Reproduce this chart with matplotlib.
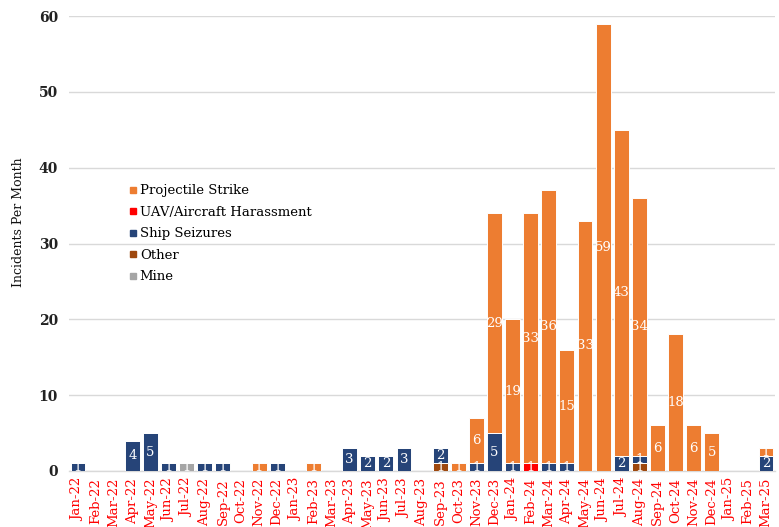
import numpy as np
import matplotlib
matplotlib.use("Agg")
import matplotlib.pyplot as plt
from matplotlib.lines import Line2D

months = ["Jan-22", "Feb-22", "Mar-22", "Apr-22", "May-22", "Jun-22", "Jul-22", "Aug-22",
          "Sep-22", "Oct-22", "Nov-22", "Dec-22", "Jan-23", "Feb-23", "Mar-23", "Apr-23",
          "May-23", "Jun-23", "Jul-23", "Aug-23", "Sep-23", "Oct-23", "Nov-23", "Dec-23",
          "Jan-24", "Feb-24", "Mar-24", "Apr-24", "May-24", "Jun-24", "Jul-24", "Aug-24",
          "Sep-24", "Oct-24", "Nov-24", "Dec-24", "Jan-25", "Feb-25", "Mar-25"]

mine = [0, 0, 0, 0, 0, 0, 1, 0, 0, 0, 0, 0, 0, 0, 0, 0, 0, 0, 0, 0,
        0, 0, 0, 0, 0, 0, 0, 0, 0, 0, 0, 0, 0, 0, 0, 0, 0, 0, 0]
other = [0, 0, 0, 0, 0, 0, 0, 0, 0, 0, 0, 0, 0, 0, 0, 0, 0, 0, 0, 0,
         1, 0, 0, 0, 0, 0, 0, 0, 0, 0, 0, 1, 0, 0, 0, 0, 0, 0, 0]
ship_seizures = [1, 0, 0, 4, 5, 1, 0, 1, 1, 0, 0, 1, 0, 0, 0, 3, 2, 2, 3, 0,
                 2, 0, 1, 5, 1, 0, 1, 1, 0, 0, 2, 1, 0, 0, 0, 0, 0, 0, 2]
uav_harassment = [0, 0, 0, 0, 0, 0, 0, 0, 0, 0, 0, 0, 0, 0, 0, 0, 0, 0, 0, 0,
                  0, 0, 0, 0, 0, 1, 0, 0, 0, 0, 0, 0, 0, 0, 0, 0, 0, 0, 0]
projectile_strike = [0, 0, 0, 0, 0, 0, 0, 0, 0, 0, 1, 0, 0, 1, 0, 0, 0, 0, 0, 0,
                     0, 1, 6, 29, 19, 33, 36, 15, 33, 59, 43, 34, 6, 18, 6, 5, 0, 0, 1]

# stacking order: bottom to top
series = [
    ("Mine", mine, "#A5A5A5"),
    ("Other", other, "#9E480E"),
    ("Ship Seizures", ship_seizures, "#264478"),
    ("UAV/Aircraft Harassment", uav_harassment, "#FF0000"),
    ("Projectile Strike", projectile_strike, "#ED7D31"),
]

plt.rcParams["font.family"] = ["DejaVu Serif"]

fig = plt.figure(figsize=(7.79, 5.27), dpi=100)
ax = fig.add_axes([0.0886, 0.1063, 0.9064, 0.8633])

x = np.arange(len(months))
bottom = np.zeros(len(months))
colors = {}
for name, vals, color in series:
    vals = np.array(vals, dtype=float)
    ax.bar(x, vals, bottom=bottom, width=0.82, color=color,
           edgecolor="white", linewidth=0.7, zorder=3)
    for xi, v, b in zip(x, vals, bottom):
        if v > 0:
            ax.text(xi, b + v / 2, f"{int(v)}", ha="center", va="center",
                    color="white", fontsize=9.5, zorder=4)
    bottom += vals
    colors[name] = color

ax.set_xlim(-0.5, len(months) - 0.5)
ax.set_ylim(0, 60)
ax.set_yticks(np.arange(0, 61, 10))
ax.grid(axis="y", color="#D9D9D9", linewidth=1, zorder=0)
ax.set_axisbelow(True)
for s in ["top", "right", "left"]:
    ax.spines[s].set_visible(False)
ax.spines["bottom"].set_color("#D9D9D9")
ax.spines["bottom"].set_linewidth(1)
ax.tick_params(axis="y", length=0, labelsize=10, pad=8)
ax.tick_params(axis="x", length=0, pad=5)
for lbl in ax.get_yticklabels():
    lbl.set_fontweight("bold")
    lbl.set_color("#222222")
ax.set_xticks(x)
ax.set_xticklabels(months, rotation=90, color="#FF0000", fontsize=9.5)
ax.set_ylabel("Incidents Per Month", fontsize=9, color="#111111")
ax.yaxis.set_label_coords(-0.062, 0.547)

legend_order = ["Projectile Strike", "UAV/Aircraft Harassment", "Ship Seizures", "Other", "Mine"]
legend_handles = [Line2D([0], [0], marker="s", linestyle="none", markersize=5,
                         markerfacecolor=colors[n], markeredgecolor=colors[n])
                  for n in legend_order]
ax.legend(legend_handles, legend_order, loc="upper left", bbox_to_anchor=(0.075, 0.642),
          frameon=False, fontsize=9.5, handletextpad=0.15, labelspacing=0.65,
          handlelength=0.8, borderaxespad=0)

fig.savefig("out.png", dpi=100)
